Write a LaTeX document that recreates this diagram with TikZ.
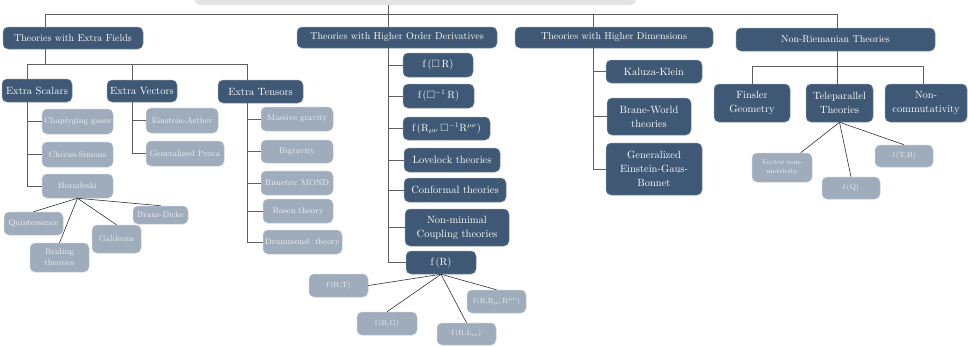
\documentclass[tikz,border=0pt]{standalone}
\usepackage{amssymb}
\begin{document}
\begin{tikzpicture}[x=1pt,y=-1pt,
  box/.style={rounded corners=5pt,align=center,inner sep=1pt},
  dark/.style={box,fill=darkColor,draw=darkColor!65!white,line width=0.5pt,text=white,font=\fontsize{10.5}{14}\selectfont},
  head/.style={dark,font=\fontsize{10}{11}\selectfont},
  pale/.style={box,fill=paleColor,draw=paleColor!60!white,line width=0.5pt,text=paleText,font=\fontsize{8.3}{11}\selectfont},
  tiny/.style={pale,font=\fontsize{7.5}{8.5}\selectfont},
  link/.style={draw=linkColor,line width=0.9pt},
  fan/.style={draw=fanColor,line width=0.6pt}]
\definecolor{darkColor}{RGB}{62,88,118}
\definecolor{paleColor}{RGB}{158,172,187}
\definecolor{paleText}{RGB}{236,239,242}
\definecolor{linkColor}{RGB}{95,95,95}
\definecolor{fanColor}{RGB}{50,50,50}
\definecolor{rootColor}{RGB}{228,228,228}
\path[use as bounding box,fill=white] (0,0) rectangle (968,346);

% root and first level
\node[box,fill=rootColor,minimum width=441pt,minimum height=30pt] (root) at (415.5,-10) {};
\node[head,minimum width=140pt,minimum height=22pt] (ef) at (73,38) {Theories with Extra Fields};
\node[head,minimum width=200pt,minimum height=21pt] (hod) at (397,37.5) {Theories with Higher Order Derivatives};
\node[head,minimum width=198pt,minimum height=21pt] (hd) at (614,37.5) {Theories with Higher Dimensions};
\node[head,minimum width=199pt,minimum height=23pt] (nr) at (835.5,39.5) {Non-Riemanian Theories};

% extra fields
\node[dark,minimum width=70pt,minimum height=23pt] (sc) at (37,90.5) {Extra Scalars};
\node[dark,minimum width=70pt,minimum height=22pt] (vc) at (142,91) {Extra Vectors};
\node[dark,minimum width=85pt,minimum height=23pt] (tn) at (260.5,91.5) {Extra Tensors};

\node[pale,minimum width=71pt,minimum height=25pt] (chap) at (77.5,121.5) {Chaplyging gases};
\node[pale,minimum width=71pt,minimum height=25pt] (cs) at (77.5,154.5) {Cherns-Simons};
\node[pale,minimum width=71pt,minimum height=24pt] (horn) at (77.5,186) {Horndeski};
\node[pale,minimum width=59pt,minimum height=23pt] (quint) at (33.5,223.5) {Quintessence};
\node[pale,minimum width=59pt,minimum height=29pt] (brid) at (59.5,257.5) {Briding\\theories};
\node[pale,minimum width=49pt,minimum height=28pt] (gal) at (116.5,239) {Galileons};
\node[pale,minimum width=55pt,minimum height=18pt] (bd) at (160.5,215) {Brans-Dicke};

\node[pale,minimum width=72pt,minimum height=25pt] (ea) at (182,120.5) {Einstein-Aether};
\node[pale,minimum width=78pt,minimum height=25pt] (gp) at (185,153.5) {Generalized Proca};

\node[pale,minimum width=72pt,minimum height=24pt] (mg) at (297,119) {Massive gravity};
\node[pale,minimum width=72pt,minimum height=23pt] (bg) at (297,151.5) {Bigravity};
\node[pale,minimum width=72pt,minimum height=24pt] (bm) at (297,183) {Bimetric MOND};
\node[pale,minimum width=70pt,minimum height=24pt] (ros) at (298,211) {Rosen theory};
\node[pale,minimum width=79pt,minimum height=24pt] (dr) at (302.5,242) {Drummond\ \ theory};

% higher order derivatives
\node[dark,minimum width=70pt,minimum height=24pt] (fbr) at (438,65) {f\,($\Box$\,R)};
\node[dark,minimum width=71pt,minimum height=24pt] (fbir) at (438.5,96) {f\,($\Box^{-1}$\,R)};
\node[dark,minimum width=87pt,minimum height=23pt] (fric) at (446.5,128.5) {f\,(R$_{\mu\nu}\,\Box^{-1}$R$^{\mu\nu}$)};
\node[dark,minimum width=96pt,minimum height=24pt] (love) at (452,160) {Lovelock theories};
\node[dark,minimum width=102pt,minimum height=24pt] (conf) at (455,190) {Conformal theories};
\node[dark,minimum width=104pt,minimum height=37pt] (nmc) at (457,227.5) {Non-minimal\\Coupling theories};
\node[dark,minimum width=70pt,minimum height=23pt] (fr) at (441,262.5) {f\,(R)};

\node[tiny,minimum width=59pt,minimum height=23pt] (frt) at (338.5,285.5) {f\,(R,T)};
\node[tiny,minimum width=60pt,minimum height=23pt] (frg) at (387,323.5) {f\,(R,G)};
\node[tiny,minimum width=59pt,minimum height=22pt] (frl) at (466.5,334) {f\,(R,L$_m$)};
\node[tiny,minimum width=59pt,minimum height=23pt] (frr) at (496.5,301.5) {f\,(R,R$_{\mu\nu}$R$^{\mu\nu}$)};

% higher dimensions
\node[dark,minimum width=96pt,minimum height=23pt] (kk) at (654,71.5) {Kaluza-Klein};
\node[dark,minimum width=84pt,minimum height=37pt] (bw) at (649,116.5) {Brane-World\\theories};
\node[dark,minimum width=96pt,minimum height=52pt] (gegb) at (654,169) {Generalized\\Einstein-Gaus-\\Bonnet};

% non-riemanian
\node[dark,minimum width=76pt,minimum height=38pt] (fins) at (752,103) {Finsler\\Geometry};
\node[dark,minimum width=67pt,minimum height=38pt] (tele) at (839.5,103) {Teleparallel\\Theories};
\node[dark,minimum width=82pt,minimum height=38pt] (nc) at (926,103) {Non-\\commutativity};

\node[tiny,font=\fontsize{7}{8.5}\selectfont,minimum width=60pt,minimum height=29pt] (vnm) at (782,167.5) {Vector non-\\metricity};
\node[tiny,minimum width=58pt,minimum height=22pt] (fq) at (851,188) {f\,(Q)};
\node[tiny,minimum width=58pt,minimum height=22pt] (ftb) at (904,156) {f\,(T,B)};

% trunks
\coordinate (busL) at (45,14);
\coordinate (busR) at (837,14);
\coordinate (hodx) at (388,14);
\coordinate (hdx) at (593,14);
\draw[link] (ef.north -| busL) |- (busR) -- (nr.north -| busR);
\draw[link] (root.south -| hodx) -- (hod.north -| hodx);
\draw[link] (hdx) -- (hd.north -| hdx);

\coordinate (efbus) at (0,64);
\coordinate (scx) at (27,0);
\coordinate (vcx) at (132,0);
\coordinate (tnx) at (247,0);
\draw[link] (ef.south -| busL) -- (busL |- efbus);
\draw[link] (sc.north -| scx) |- (tnx |- efbus) -- (tn.north -| tnx);
\draw[link] (vcx |- efbus) -- (vc.north -| vcx);

\draw[link] (sc.south -| scx) |- (horn.west);
\foreach \n in {chap,cs} \draw[link] (scx |- \n.west) -- (\n.west);
\draw[link] (vc.south -| vcx) |- (gp.west);
\draw[link] (vcx |- ea.west) -- (ea.west);
\draw[link] (tn.south -| tnx) |- (dr.west);
\foreach \n in {mg,bg,bm,ros} \draw[link] (tnx |- \n.west) -- (\n.west);

\draw[link] (hod.south -| hodx) |- (fr.west);
\foreach \n in {fbr,fbir,fric,love,conf,nmc} \draw[link] (hodx |- \n.west) -- (\n.west);

\draw[link] (hd.south -| hdx) |- (gegb.west);
\foreach \n in {kk,bw} \draw[link] (hdx |- \n.west) -- (\n.west);

\coordinate (nrbus) at (0,66);
\coordinate (finx) at (752,0);
\coordinate (ncx) at (923,0);
\draw[link] (nr.south -| busR) -- (tele.north -| busR);
\draw[link] (fins.north -| finx) |- (ncx |- nrbus) -- (nc.north -| ncx);

% fans
\foreach \n in {quint,brid,gal,bd} \draw[fan] (horn.south) -- (\n.north);
\draw[fan] (fr.south) -- (frt.east);
\foreach \n in {frg,frl,frr} \draw[fan] (fr.south) -- (\n.north);
\draw[fan] (tele.south) -- (vnm);
\foreach \n in {fq,ftb} \draw[fan] (tele.south) -- (\n.north);
\end{tikzpicture}
\end{document}
